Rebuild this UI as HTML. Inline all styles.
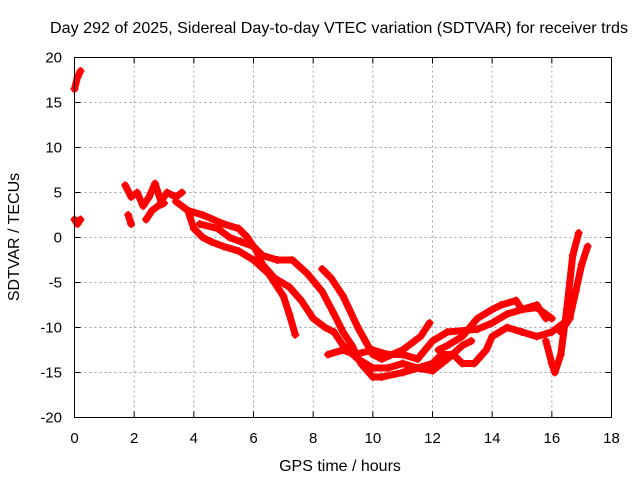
<!DOCTYPE html>
<html><head><meta charset="utf-8"><style>
body{margin:0;background:#fff}
svg{display:block;font-family:"Liberation Sans",sans-serif}
</style></head><body>
<svg id="chart" width="640" height="480" viewBox="0 0 640 480">
<rect width="640" height="480" fill="#fff"/>
<text x="339" y="33" font-size="16" text-anchor="middle" textLength="578" lengthAdjust="spacingAndGlyphs">Day 292 of 2025, Sidereal Day-to-day VTEC variation (SDTVAR) for receiver trds</text>
<g id="grid"></g>
<g id="series"></g>
<rect x="74.5" y="57.5" width="537" height="360" fill="none" stroke="#000" stroke-width="1"/>
<g id="ticks"></g>
<text x="340" y="471" font-size="16" text-anchor="middle">GPS time / hours</text>
<text transform="translate(19,237) rotate(-90)" font-size="16" text-anchor="middle">SDTVAR / TECUs</text>
</svg>
<script>
const xTicks=[0,2,4,6,8,10,12,14,16,18];
const yTicks=[20,15,10,5,0,-5,-10,-15,-20];
const arc1=[[1.7,5.8],[1.9,4.5],[2.1,5],[2.3,3.5],[2.5,4.5],[2.7,6],[2.9,4],[3.1,5],[3.4,4.5],[3.6,5]];
const arc1b=[[1.8,2.5],[1.9,1.5]];
const arc1c=[[2.4,2],[2.6,3],[2.8,3.5],[3.0,3.8]];
const arc0a=[[0,2],[0.1,1.5],[0.2,2]];
const arc0b=[[0,16.5],[0.1,17.8],[0.2,18.5]];
const arc2=[[3.4,4],[3.8,3],[4,1],[4.3,0],[4.6,-0.5],[5,-1],[5.5,-1.5],[6,-2.5],[6.5,-4],[7,-6.5],[7.2,-8.5],[7.4,-10.8]];
const arc3=[[3.8,3],[4.3,2.5],[5,1.5],[5.5,1],[5.8,0],[6.1,-1.5],[6.3,-3],[6.7,-4.5],[7.2,-5.5],[7.6,-7],[8,-9],[8.4,-10],[8.7,-10.5],[9,-12],[9.5,-13.5],[10,-14.5],[10.5,-14.5],[11,-14],[11.5,-14.5],[12,-14.8]];
const arc4=[[4.2,1.5],[4.8,1],[5.2,0],[5.6,-0.5],[6,-1],[6.3,-2],[6.8,-2.5],[7.3,-2.5],[7.8,-4],[8.3,-6],[8.7,-8.5],[9,-10.5],[9.3,-12],[9.6,-14],[10,-15.5],[10.3,-15.5],[11,-15],[11.5,-14.5],[12,-14.8],[12.5,-13.5],[13,-12],[13.3,-11.5]];
const arc5=[[8.3,-3.5],[8.6,-4.5],[9,-6.5],[9.5,-10],[10,-13],[10.3,-13.5],[11,-12.5],[11.6,-11],[11.9,-9.5]];
const arc6=[[8.5,-13],[9,-12.5],[9.4,-13],[10,-12.5],[10.5,-13],[11,-13],[11.5,-13.5],[12,-11.5],[12.5,-10.5],[13.5,-10.2],[14,-9.5],[14.5,-8.5],[15,-8],[15.5,-7.8],[16,-9]];
const arc7=[[11,-15],[11.5,-14.5],[12,-14],[12.3,-13],[12.7,-13],[13,-14],[13.4,-14],[13.8,-12.5],[14,-11],[14.5,-10],[15,-10.5],[15.5,-11],[16,-10.5],[16.4,-9.5]];
const arc8=[[12.2,-12.5],[12.5,-12],[13,-11],[13.5,-9],[14,-8],[14.3,-7.5],[14.8,-7],[15,-8],[15.5,-7.5],[15.8,-9]];
const arc9=[[15.8,-11.5],[16,-14],[16.1,-15],[16.3,-13],[16.5,-8],[16.7,-2],[16.9,0.5]];
const arc10=[[16.3,-10.5],[16.6,-9],[16.8,-6],[17,-3],[17.2,-1]];
const arcs=[arc0a,arc0b,arc1,arc1b,arc1c,arc2,arc3,arc4,arc5,arc6,arc7,arc8,arc9,arc10];
const NS='http://www.w3.org/2000/svg';
const X0=74.5,X1=611.5,Y0=417.5,Y1=57.5;
function sx(v){return X0+(v-0)/(18-0)*(X1-X0);}
function sy(v){return Y0-(v+20)/40*(Y0-Y1);}
function mk(tag,attrs,parent){const e=document.createElementNS(NS,tag);for(const k in attrs)e.setAttribute(k,attrs[k]);parent.appendChild(e);return e;}
const grid=document.getElementById('grid'),ticks=document.getElementById('ticks'),ser=document.getElementById('series');
xTicks.forEach(t=>{const x=sx(t);
 if(t>0&&t<18){const g=mk('line',{x1:x,x2:x,y1:Y0,y2:Y1,stroke:'#a0a0a0','stroke-dasharray':'2,3'},grid);
 
 }
 mk('line',{x1:x,x2:x,y1:Y0,y2:Y0-6,stroke:'#000'},ticks);
 mk('line',{x1:x,x2:x,y1:Y1,y2:Y1+6,stroke:'#000'},ticks);
 const l=mk('text',{x:x,y:443,'font-size':15,'text-anchor':'middle'},ticks);l.textContent=t;
 
 
});
yTicks.forEach(t=>{const y=sy(t);
 if(t>-20&&t<20){const g=mk('line',{x1:X0,x2:X1,y1:y,y2:y,stroke:'#a0a0a0','stroke-dasharray':'2,3'},grid);
 
 }
 mk('line',{x1:X0,x2:X0+6,y1:y,y2:y,stroke:'#000'},ticks);
 mk('line',{x1:X1,x2:X1-6,y1:y,y2:y,stroke:'#000'},ticks);
 const l=mk('text',{x:62,y:y+5,'font-size':15,'text-anchor':'end'},ticks);l.textContent=t;
 
 
});
arcs.forEach((a,i)=>{
 const p=mk('polyline',{points:a.map(d=>sx(d[0])+','+sy(d[1])).join(' '),fill:'none',stroke:'#f00','stroke-width':7,'stroke-linejoin':'round','stroke-linecap':'round'},ser);
 
 
 a.forEach(d=>{const x=sx(d[0]),y=sy(d[1]);
  const m=mk('path',{d:`M${x-4},${y}H${x+4}M${x},${y-4}V${y+4}`,stroke:'#f00','stroke-width':1.5},ser);
  
  
 });
});
</script>
</body></html>
